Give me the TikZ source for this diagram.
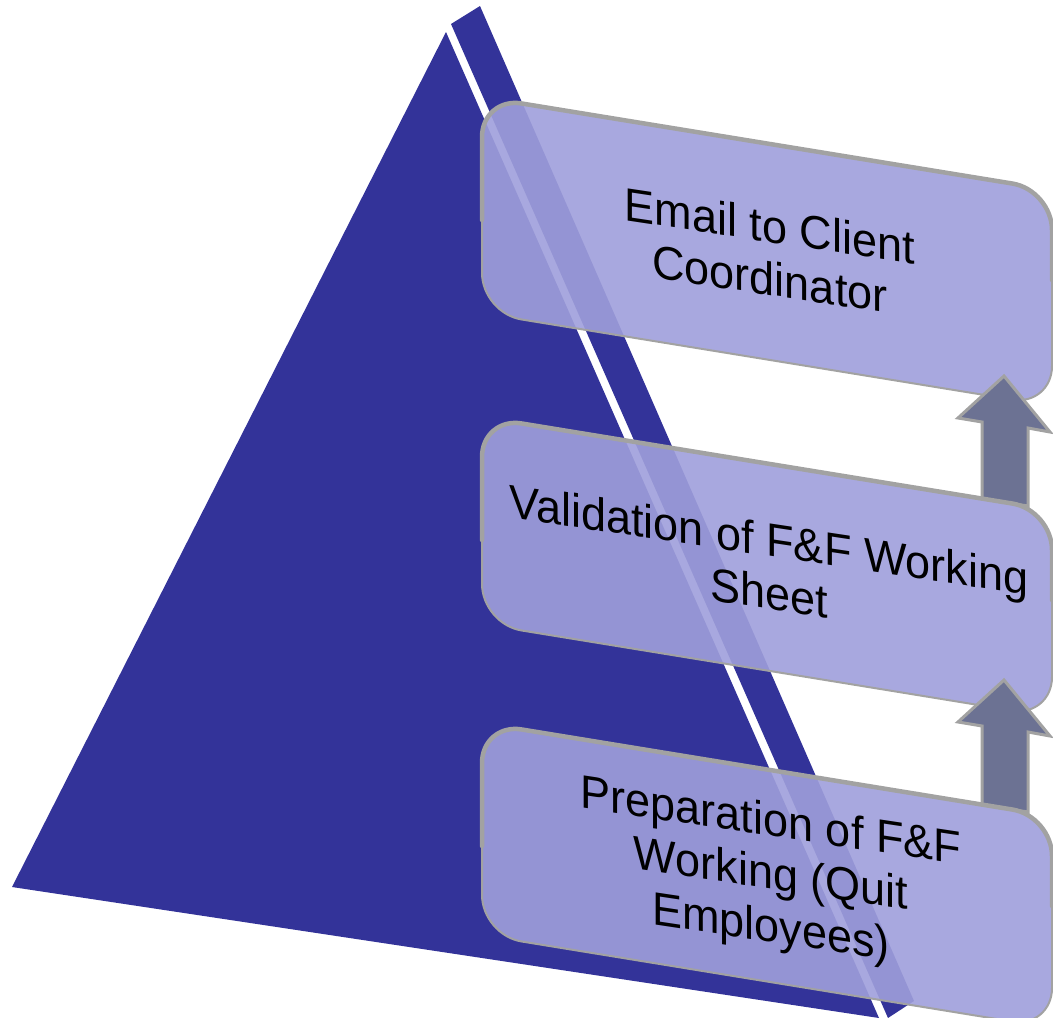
\documentclass[tikz,border=0pt]{standalone}
\usepackage{fontspec}
\setmainfont{Liberation Sans}
\definecolor{pyr}{HTML}{333399}
\definecolor{boxc}{HTML}{9F9FDB}
\definecolor{bordc}{HTML}{A2A2A2}
\definecolor{arrc}{HTML}{6C7293}
\begin{document}
\begin{tikzpicture}[x=1pt,y=-1pt,
  face/.style={fill=pyr},
  boxshape/.style={fill=boxc, fill opacity=0.9, draw=bordc, line width=2pt, rounded corners=40pt, line join=round},
  topedge/.style={draw=bordc, line width=4.5pt, rounded corners=40pt, line cap=round},
  blockarrow/.style={fill=arrc, draw=bordc, line width=3pt, line join=miter},
  boxtext/.style={font=\fontsize{45}{51}\selectfont, align=center, inner sep=0pt, yslant=-0.15, yscale=1.04}]
\useasboundingbox (0,0) rectangle (1053,1018);
% pyramid
\fill[face] (446,32) -- (879,1018) -- (12,887) -- cycle;
\fill[face] (451,24) -- (480,6) -- (914,1001) -- (888,1018) -- cycle;
% box 1
\path[boxshape] (482,97) -- (1052,190) -- (1052,406) -- (482,313) -- cycle;
\draw[topedge] (482,220) -- (482,97) -- (1052,190) -- (1052,280);
\begin{scope}[shift={(770,252)}]
\node[boxtext] (t1) at (0,0) {Email to Client\\Coordinator};
\end{scope}
% arrow 1
\draw[blockarrow] (1004,376) -- (1050,432) -- (1028,428) -- (1028,506) -- (982,499) -- (982,422) -- (958,418) -- cycle;
% box 2
\path[boxshape] (482,417) -- (1052,510) -- (1052,717) -- (482,624) -- cycle;
\draw[topedge] (482,540) -- (482,417) -- (1052,510) -- (1052,600);
\begin{scope}[shift={(769,566)}]
\node[boxtext] (t2) at (0,0) {Validation of F\&F Working\\Sheet};
\end{scope}
% arrow 2
\draw[blockarrow] (1004,680) -- (1050,736) -- (1028,732) -- (1028,812) -- (982,805) -- (982,726) -- (958,722) -- cycle;
% box 3
\path[boxshape] (482,723) -- (1052,816) -- (1052,1028) -- (482,935) -- cycle;
\draw[topedge] (482,846) -- (482,723) -- (1052,816) -- (1052,906);
\begin{scope}[shift={(771,877)}]
\node[boxtext] (t3) at (0,0) {Preparation of F\&F\\Working (Quit\\Employees)};
\end{scope}
\end{tikzpicture}
\end{document}
